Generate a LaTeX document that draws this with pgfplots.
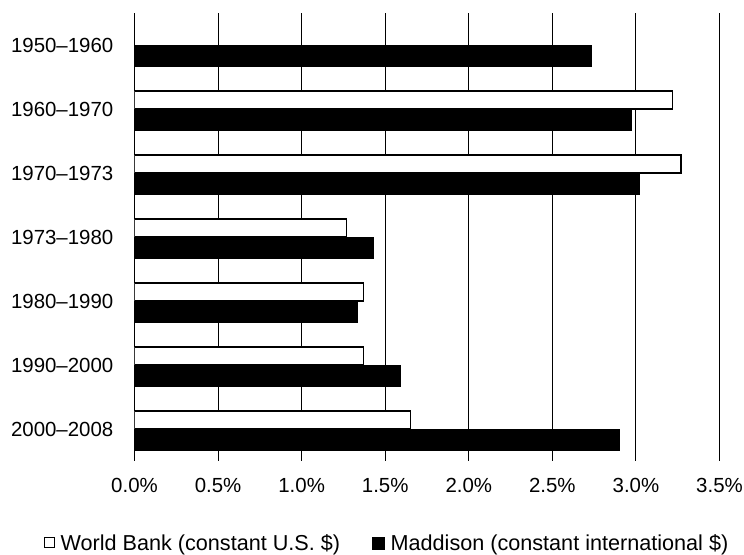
\documentclass[border=0pt]{standalone}
\usepackage{fontspec}
\setmainfont{Liberation Sans}
\usepackage{pgfplots}
\pgfplotsset{compat=1.18}

\begin{document}
\begin{tikzpicture}
\begin{axis}[
  scale only axis, width=585bp, height=448bp,
  xmin=0, xmax=3.5, ymin=-0.5, ymax=6.5, y dir=reverse,
  xtick={0,0.5,1,1.5,2,2.5,3,3.5},
  xticklabels={0.0\%,0.5\%,1.0\%,1.5\%,2.0\%,2.5\%,3.0\%,3.5\%},
  ytick={0,1,2,3,4,5,6},
  yticklabels={1950--1960,1960--1970,1970--1973,1973--1980,1980--1990,1990--2000,2000--2008},
  xmajorgrids, grid style={black, line width=0.9bp},
  axis line style={draw=none}, major tick length=0pt,
  tick label style={font=\fontsize{20.5}{24}\selectfont},
  xticklabel style={inner sep=0pt, yshift=-17bp},
  yticklabel style={inner sep=0pt, xshift=-21bp},
  xbar,
  legend columns=2,
  legend style={at={(0.4316,-0.183)}, anchor=center, draw=none,
    font=\fontsize{21.7}{24}\selectfont,
    /tikz/every odd column/.append style={column sep=4bp},
    /tikz/every even column/.append style={column sep=30bp}},
]
% World Bank (constant U.S. $)
\addplot[draw=black, fill=white, line width=1.2bp, bar width=18bp, bar shift=9bp,
  legend image code/.code={\draw[black, line width=1bp, fill=white] (0bp,-5bp) rectangle (10bp,5bp);}]
  coordinates {(3.22,1) (3.27,2) (1.27,3) (1.37,4) (1.37,5) (1.65,6)};
% Maddison (constant international $)
\addplot[draw=black, fill=black, line width=0.5bp, bar width=21bp, bar shift=-10.5bp,
  legend image code/.code={\draw[black, fill=black] (0bp,-6bp) rectangle (12bp,6bp);}]
  coordinates {(2.73,0) (2.97,1) (3.02,2) (1.43,3) (1.33,4) (1.59,5) (2.90,6)};
\legend{World Bank (constant U.S. \$), Maddison (constant international \$)}
\end{axis}
\pgfresetboundingbox
\path (-134.5bp,-94bp) rectangle (609.5bp,461bp);
\end{tikzpicture}
\end{document}
